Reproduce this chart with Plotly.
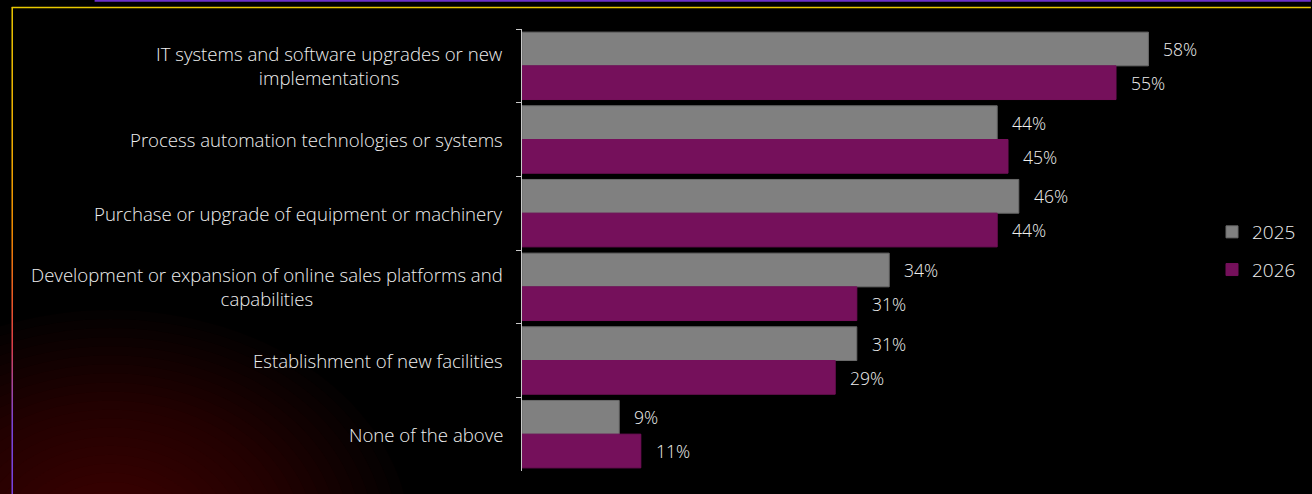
import plotly.graph_objects as go

# Survey categories (top to bottom) and shares by year, in percent
categories = [
    "IT systems and software upgrades or new implementations",
    "Process automation technologies or systems",
    "Purchase or upgrade of equipment or machinery",
    "Development or expansion of online sales platforms and capabilities",
    "Establishment of new facilities",
    "None of the above",
]
category_labels = [
    "IT systems and software upgrades or new<br>implementations",
    "Process automation technologies or systems",
    "Purchase or upgrade of equipment or machinery",
    "Development or expansion of online sales platforms and<br>capabilities",
    "Establishment of new facilities",
    "None of the above",
]
years = ["2025", "2026"]
values_2025 = [58, 44, 46, 34, 31, 9]
values_2026 = [55, 45, 44, 31, 29, 11]

W, H = 1312, 494
ML, MR, MT, MB = 522, 87, 29, 23
PW, PH = W - ML - MR, H - MT - MB

FONT = "Open Sans"
WEIGHT = 300
TEXT = "#efefef"
GREY = "#808080"
PURPLE = "#75105b"


def px_x(x):
    return (x - ML) / PW


def px_y(y):
    return 1 - (y - MT) / PH


fig = go.Figure()
series = [(years[0], values_2025, GREY, "#6a6a6a"), (years[1], values_2026, PURPLE, PURPLE)]
for name, vals, color, edge in series:
    fig.add_trace(go.Bar(
        y=categories, x=vals, name=name, orientation="h",
        marker=dict(color=color, line=dict(color=edge, width=1)),
        legendgroup=name, hoverinfo="skip",
    ))

fig.update_layout(
    barmode="group", bargap=0.085, bargroupgap=0,
    width=W, height=H,
    margin=dict(l=ML, r=MR, t=MT, b=MB),
    paper_bgcolor="#000000", plot_bgcolor="#000000",
    font=dict(family=FONT, size=17, color=TEXT, weight=WEIGHT),
    showlegend=True,
    legend=dict(
        x=px_x(1212), y=px_y(251), xanchor="left", yanchor="middle",
        bgcolor="rgba(0,0,0,0)", font=dict(size=19, color=TEXT, family=FONT, weight=WEIGHT),
        traceorder="grouped", tracegroupgap=10,
    ),
    xaxis=dict(range=[0, 65], visible=False, fixedrange=True),
    yaxis=dict(
        autorange="reversed", showticklabels=False,
        showline=True, linecolor="#c8c8c8", linewidth=1,
        ticks="outside", tickson="boundaries", ticklen=5, tickcolor="#c8c8c8",
        showgrid=False, zeroline=False,
    ),
)

# Category labels, centred lines, right-aligned block
for cat, lab in zip(categories, category_labels):
    fig.add_annotation(
        x=px_x(505), xref="paper", y=cat, yref="y",
        text=lab, showarrow=False, xanchor="right", yanchor="middle",
        align="center", font=dict(size=18.6, color=TEXT, family=FONT, weight=WEIGHT),
    )

# Value labels to the right of each bar
for j, vals in enumerate([values_2025, values_2026]):
    for cat, v in zip(categories, vals):
        fig.add_annotation(
            x=v, xref="x", y=cat, yref="y",
            text=f"{v}%", showarrow=False, xanchor="left", yanchor="middle",
            xshift=13, yshift=17 if j == 0 else -17,
            font=dict(size=17.5, color=TEXT, family=FONT, weight=WEIGHT),
        )

shapes = []

# Warm glow in the lower-left corner
n_glow = 22
for k in range(n_glow):
    t = k / (n_glow - 1)
    rx = 300 - t * 250
    ry = 230 - t * 190
    cx, cy = 110, 540
    shapes.append(dict(
        type="circle", xref="paper", yref="paper", layer="below",
        x0=px_x(cx - rx), x1=px_x(cx + rx), y0=px_y(cy + ry), y1=px_y(cy - ry),
        fillcolor="rgb(115,36,16)", opacity=0.03, line=dict(width=0),
    ))

# Top accent line
shapes.append(dict(
    type="line", xref="paper", yref="paper", layer="above",
    x0=px_x(94), x1=px_x(W), y0=px_y(0.8), y1=px_y(0.8),
    line=dict(color="#6a31c9", width=2),
))
# Frame line along the top
shapes.append(dict(
    type="line", xref="paper", yref="paper", layer="above",
    x0=px_x(11), x1=px_x(W), y0=px_y(7.5), y1=px_y(7.5),
    line=dict(color="#e8c800", width=1.5),
))

# Frame line down the left side, shading yellow -> orange -> red -> violet
stops = [(7, (235, 200, 0)), (150, (245, 175, 0)), (230, (243, 140, 0)),
         (300, (240, 90, 40)), (345, (225, 64, 74)), (385, (170, 72, 160)),
         (425, (124, 70, 224)), (494, (122, 68, 230))]


def color_at(y):
    for (y0, c0), (y1, c1) in zip(stops[:-1], stops[1:]):
        if y0 <= y <= y1:
            t = (y - y0) / (y1 - y0)
            return "rgb(%d,%d,%d)" % tuple(round(a + (b - a) * t) for a, b in zip(c0, c1))
    return "rgb(%d,%d,%d)" % stops[-1][1]


step = 6
y = 7
while y < H:
    y2 = min(y + step, H)
    shapes.append(dict(
        type="line", xref="paper", yref="paper", layer="above",
        x0=px_x(11.5), x1=px_x(11.5), y0=px_y(y), y1=px_y(y2),
        line=dict(color=color_at((y + y2) / 2), width=1.5),
    ))
    y = y2

fig.update_layout(shapes=shapes)

fig.write_html("out.html")
